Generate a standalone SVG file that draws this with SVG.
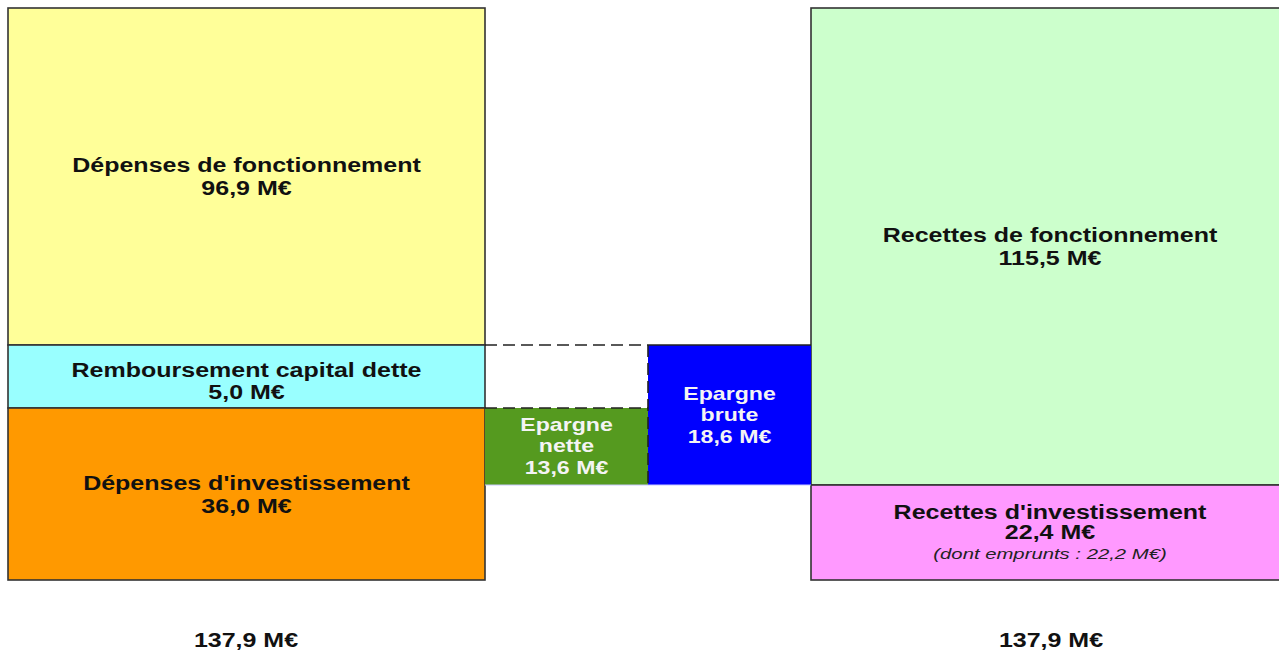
<svg xmlns="http://www.w3.org/2000/svg" width="1279" height="652" viewBox="0 0 1279 652">
<style>
.box{stroke:#333;stroke-width:1.6}
.t{font-family:"Liberation Sans",Arial,sans-serif;font-weight:bold;font-size:20px;fill:#111;text-anchor:middle}
.w{font-family:"Liberation Sans",Arial,sans-serif;font-weight:bold;font-size:18.5px;fill:#f4f4f4;text-anchor:middle}
.i{font-family:"Liberation Sans",Arial,sans-serif;font-style:italic;font-size:14px;fill:#222;text-anchor:middle}
.dash{stroke:#222;stroke-width:1.6;stroke-dasharray:12 6;fill:none}
</style>
<rect width="1279" height="652" fill="#fff"/>
<g id="depenses-fonctionnement">
<rect class="box" x="8" y="8" width="477" height="337" fill="#FFFF99"/>
<text class="t" transform="translate(246.5,172) scale(1.25,1)"><tspan x="0" y="0">Dépenses de fonctionnement</tspan><tspan x="0" y="23">96,9 M€</tspan></text>
</g>
<g id="remboursement">
<rect class="box" x="8" y="345" width="477" height="63" fill="#99FFFF"/>
<text class="t" transform="translate(246.5,377) scale(1.25,1)"><tspan x="0" y="0">Remboursement capital dette</tspan><tspan x="0" y="22">5,0 M€</tspan></text>
</g>
<g id="depenses-investissement">
<rect class="box" x="8" y="408" width="477" height="172" fill="#FF9900"/>
<text class="t" transform="translate(246.5,490) scale(1.25,1)"><tspan x="0" y="0">Dépenses d'investissement</tspan><tspan x="0" y="23">36,0 M€</tspan></text>
</g>
<g id="recettes-fonctionnement">
<rect class="box" x="811" y="8" width="480" height="477" fill="#CCFFCC"/>
<text class="t" transform="translate(1050,242) scale(1.25,1)"><tspan x="0" y="0">Recettes de fonctionnement</tspan><tspan x="0" y="23">115,5 M€</tspan></text>
</g>
<g id="recettes-investissement">
<rect class="box" x="811" y="485" width="480" height="95" fill="#FF99FF"/>
<text class="t" transform="translate(1050,519) scale(1.25,1)"><tspan x="0" y="0">Recettes d'investissement</tspan><tspan x="0" y="20">22,4 M€</tspan></text>
<text class="i" transform="translate(1050,559) scale(1.45,1)">(dont emprunts : 22,2 M€)</text>
</g>
<g id="epargne-nette">
<rect x="485" y="408" width="163" height="77" fill="#559A1F"/>
<text class="w" transform="translate(566.5,431) scale(1.25,1)"><tspan x="0" y="0">Epargne</tspan><tspan x="0" y="21.5">nette</tspan><tspan x="0" y="43">13,6 M€</tspan></text>
</g>
<g id="epargne-brute">
<rect x="648" y="345" width="163" height="140" fill="#0000FF"/>
<text class="w" transform="translate(729.5,400) scale(1.25,1)"><tspan x="0" y="0">Epargne</tspan><tspan x="0" y="21.5">brute</tspan><tspan x="0" y="43">18,6 M€</tspan></text>
</g>
<g id="connectors">
<path class="dash" d="M485 345 H648"/>
<path d="M648 345 H811" stroke="#222" stroke-width="1.6"/>
<path class="dash" d="M485 408 H648"/>
<path class="dash" d="M648 345 V485" stroke-dasharray="10 4"/>
<path d="M485 485 H811" stroke="#c8c8ff" stroke-width="1"/>
</g>
<g id="totaux">
<text class="t" transform="translate(246,647) scale(1.25,1)">137,9 M€</text>
<text class="t" transform="translate(1051,647) scale(1.25,1)">137,9 M€</text>
</g>
</svg>
